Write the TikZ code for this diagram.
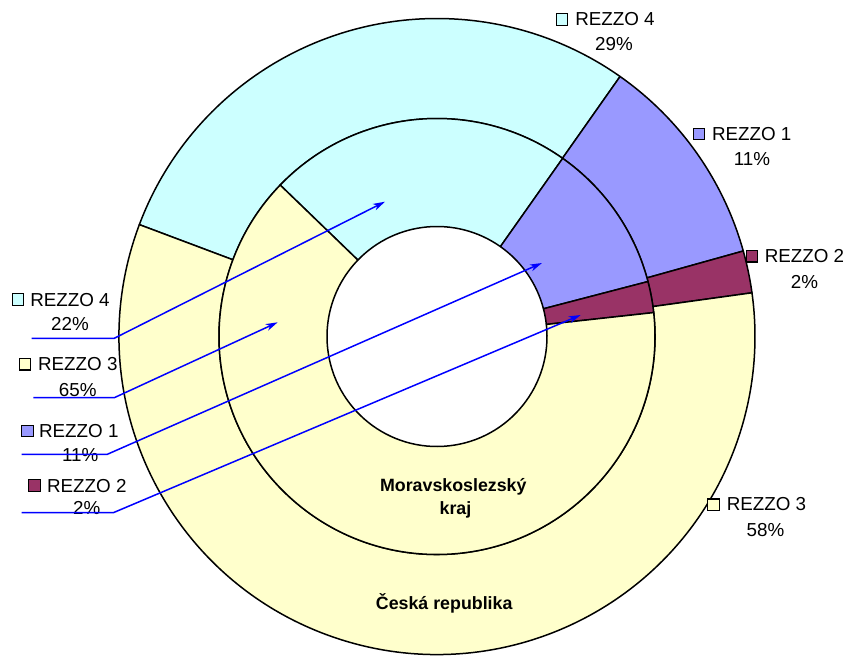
\documentclass[tikz,border=0pt]{standalone}
\usepackage{fontspec}
\setmainfont{Liberation Sans}
\usetikzlibrary{arrows.meta}
\definecolor{cR4}{HTML}{CCFFFF}
\definecolor{cR1}{HTML}{9999FF}
\definecolor{cR2}{HTML}{993366}
\definecolor{cR3}{HTML}{FFFFCC}
\definecolor{lead}{HTML}{0000FF}
\tikzset{
  seg/.style={draw=black, line width=1.5pt, line join=round},
  key/.style={draw=black, line width=1.1pt, minimum size=11.5pt, inner sep=0pt},
  lab/.style={anchor=base, inner sep=0pt, font=\fontsize{18.8}{22}\selectfont},
  blab/.style={anchor=base, inner sep=0pt, font=\fontsize{17.8}{21}\selectfont\bfseries},
  leader/.style={draw=lead, line width=1.5pt, -{Stealth[length=12pt,width=7pt,inset=3.5pt]}}
}
\newcommand{\ringseg}[5]{%
  \path[seg, fill=#5] (#1:#4) arc[start angle=#1, end angle=#2, radius=#4]
    -- (#2:#3) arc[start angle=#2, end angle=#1, radius=#3] -- cycle;}
\begin{document}
\begin{tikzpicture}[x=1pt, y=1pt]
\useasboundingbox (0,0) rectangle (849,657);
\begin{scope}[shift={(437,320.5)}]
  % outer ring: Ceska republika
  \ringseg{54.85}{159.4}{218}{318}{cR4}
  \ringseg{15.6}{54.85}{218}{318}{cR1}
  \ringseg{7.9}{15.6}{218}{318}{cR2}
  \ringseg{159.4}{367.9}{218}{318}{cR3}
  % inner ring: Moravskoslezsky kraj
  \ringseg{54.8}{136}{110}{218}{cR4}
  \ringseg{14.6}{54.8}{110}{218}{cR1}
  \ringseg{6.3}{14.6}{110}{218}{cR2}
  \ringseg{136}{366.3}{110}{218}{cR3}
\end{scope}

% ring captions
\node[blab] (msk1) at (453.3,165.6) {Moravskoslezský};
\node[blab] (msk2) at (455.5,143) {kraj};
\node[blab] (cr) at (444.2,48) {Česká republika};

% right labels (outer ring)
\node[lab] (oR4) at (615,631.3) {REZZO 4};
\node[lab] (oR4p) at (614,606.3) {29\%};
\node[key, fill=cR4] (koR4) at (562,637.5) {};
\node[lab] (oR1) at (751.7,516.3) {REZZO 1};
\node[lab] (oR1p) at (752,491) {11\%};
\node[key, fill=cR1] (koR1) at (699,523) {};
\node[lab] (oR2) at (804.5,394.3) {REZZO 2};
\node[lab] (oR2p) at (804.5,368.6) {2\%};
\node[key, fill=cR2] (koR2) at (752,400.7) {};
\node[lab] (oR3) at (766.5,146.3) {REZZO 3};
\node[lab] (oR3p) at (765.5,120.3) {58\%};
\node[key, fill=cR3] (koR3) at (713.3,152.3) {};

% left labels (inner ring)
\node[lab] (iR4) at (70,350.8) {REZZO 4};
\node[lab] (iR4p) at (70,326) {22\%};
\node[key, fill=cR4] (kiR4) at (17.8,357.3) {};
\node[lab] (iR3) at (77.8,286.3) {REZZO 3};
\node[lab] (iR3p) at (77.8,261) {65\%};
\node[key, fill=cR3] (kiR3) at (25,292.8) {};
\node[lab] (iR1) at (78.8,219.3) {REZZO 1};
\node[lab] (iR1p) at (80.3,195.3) {11\%};
\node[key, fill=cR1] (kiR1) at (27.5,226.2) {};
\node[lab] (iR2) at (86.8,165) {REZZO 2};
\node[lab] (iR2p) at (86.7,143) {2\%};
\node[key, fill=cR2] (kiR2) at (34.5,171.7) {};

% leader lines
\coordinate (s4) at (31.7,318.7);  \coordinate (b4) at (114.3,318.7);  \coordinate (t4) at (385,455.3);
\coordinate (s3) at (33.3,259.3);  \coordinate (b3) at (114.3,259.3);  \coordinate (t3) at (277.7,334.7);
\coordinate (s1) at (21.7,202.7);  \coordinate (b1) at (107.3,202.7);  \coordinate (t1) at (542,394);
\coordinate (s2) at (21.7,144.3);  \coordinate (b2) at (113.3,144.3);  \coordinate (t2) at (580.7,342);
\draw[leader] (s4) -- (b4) -- (t4);
\draw[leader] (s3) -- (b3) -- (t3);
\draw[leader] (s1) -- (b1) -- (t1);
\draw[leader] (s2) -- (b2) -- (t2);
\end{tikzpicture}
\end{document}
